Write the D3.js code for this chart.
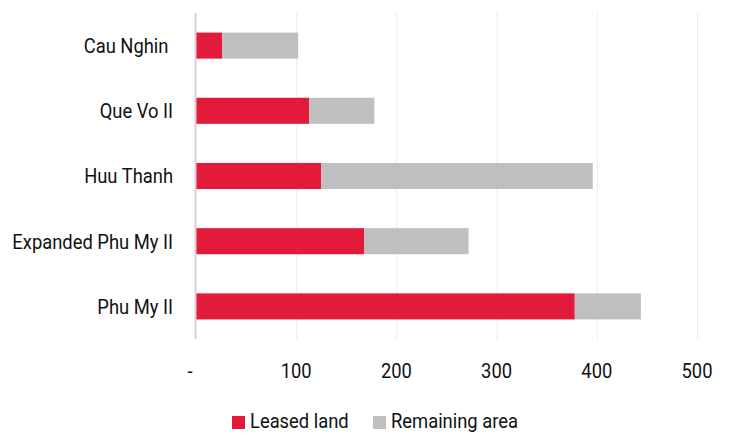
<!DOCTYPE html>
<html>
<head>
<meta charset="utf-8">
<script src="https://cdn.jsdelivr.net/npm/d3@7"></script>
<style>
body{margin:0;background:#fff;}
text{font-family:"Roboto",sans-serif;fill:#111;font-size:21px;white-space:pre;}
</style>
</head>
<body>
<svg id="chart" width="729" height="433"></svg>
<script>
// data (hectares)
var parks = ["Cau Nghin ","Que Vo II","Huu Thanh","Expanded Phu My II","Phu My II"];
var leased = [26,113,125,168,378];
var remaining = [76,65,271,104,66];
var seriesNames = ["Leased land","Remaining area"];
var seriesColours = ["#e31b3b","#bfbfbf"];
var ticks = [0,100,200,300,400,500];

var squeeze = 0.875; // narrow look of the original font

var svg = d3.select("#chart"),
    margin = {top:13, right:32, bottom:94, left:196},
    width = +svg.attr("width") - margin.left - margin.right,
    height = +svg.attr("height") - margin.top - margin.bottom;

var rows = parks.map(function(p,i){return {name:p, leased:leased[i], remaining:remaining[i]};});
var stack = d3.stack().keys(["leased","remaining"])(rows);

var x = d3.scaleLinear().domain([0,500]).range([0,width]);
var y = d3.scaleBand().domain(parks).range([0,height]).paddingInner(0.6).paddingOuter(0.3);
var c = d3.scaleOrdinal().domain(["leased","remaining"]).range(seriesColours);

var g = svg.append("g").attr("transform","translate("+margin.left+","+margin.top+")");

//gridlines
g.selectAll("line.grid").data(ticks.slice(1)).enter().append("line")
  .attr("class","grid")
  .attr("x1",function(d){return x(d)+0.5}).attr("x2",function(d){return x(d)+0.5})
  .attr("y1",0).attr("y2",height)
  .attr("stroke","#ececec").attr("stroke-width",1);

g.selectAll("g.layer").data(stack).enter().append("g")
  .attr("class","layer")
  .attr("fill",function(d){return c(d.key)})
  .selectAll("rect").data(function(d){return d}).enter().append("rect")
  .attr("x",function(d){return x(d[0])})
  .attr("width",function(d){return x(d[1])-x(d[0])})
  .attr("y",function(d){return y(d.data.name)})
  .attr("height",y.bandwidth());

//zero axis line
g.append("line").attr("x1",-0.5).attr("x2",-0.5).attr("y1",0).attr("y2",height)
  .attr("stroke","#d4d4d4").attr("stroke-width",2);

//category labels
g.selectAll("text.cat").data(parks).enter().append("text")
  .attr("class","cat")
  .attr("transform",function(d){return "translate(-23,"+(y(d)+y.bandwidth()/2)+") scale("+squeeze+",1)"})
  .attr("dy","0.35em")
  .attr("text-anchor","end")
  .text(function(d){return d});

//tick labels
g.selectAll("text.tick").data(ticks).enter().append("text")
  .attr("class","tick")
  .attr("transform",function(d){return "translate("+(d===0 ? x(d)-6 : x(d))+","+(height+39)+") scale("+squeeze+",1)"})
  .attr("text-anchor","middle")
  .text(function(d){return d===0 ? "-" : d3.format("d")(d)});

//legend
var legX = [232,373];
var leg = svg.selectAll("g.legend").data(seriesNames).enter().append("g")
  .attr("class","legend")
  .attr("transform",function(d,i){return "translate("+legX[i]+",416)"});
leg.append("rect").attr("width",13).attr("height",13).attr("fill",function(d,i){return seriesColours[i]});
leg.append("text").attr("transform","translate(18,12) scale("+squeeze+",1)")
  .text(function(d){return d});
</script>
</body>
</html>
